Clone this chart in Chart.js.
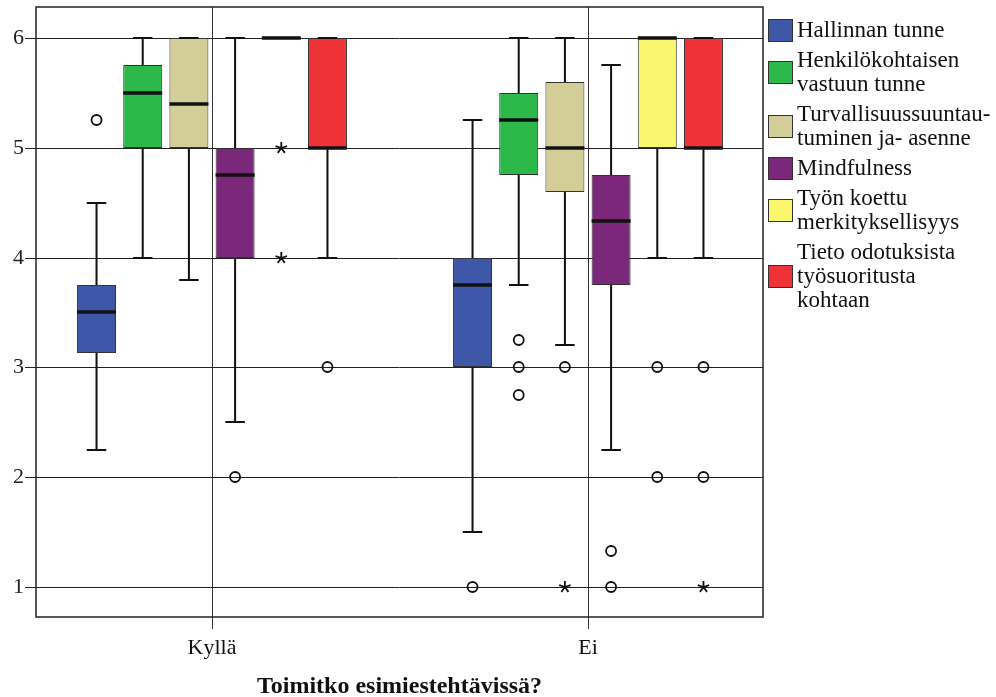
<!DOCTYPE html>
<html>
<head>
<meta charset="utf-8">
<script src="https://cdn.jsdelivr.net/npm/chart.js@4.4.0/dist/chart.umd.min.js"></script>
<style>
  body { margin: 0; background: #fff; }
  #wrap { position: relative; width: 996px; height: 697px; }
  #legend {
    position: absolute; left: 768px; top: 18px;
    display: flex; flex-direction: column; gap: 6px;
    font: 23px/24px "Liberation Serif", serif; color: #111;
  }
  .item { display: flex; align-items: center; white-space: nowrap; }
  .swatch { width: 25px; height: 23px; box-sizing: border-box; border: 1px solid #333; margin-right: 4px; flex: none; }
</style>
</head>
<body>
<div id="wrap">
  <canvas id="boxChart" width="996" height="697"></canvas>
  <div id="legend"></div>
</div>
<script>
/*
DATA
*/
const groups = ['Kyllä', 'Ei'];
const seriesNames = [
  'Hallinnan tunne',
  'Henkilökohtaisen vastuun tunne',
  'Turvallisuussuuntautuminen ja- asenne',
  'Mindfulness',
  'Työn koettu merkityksellisyys',
  'Tieto odotuksista työsuoritusta kohtaan'
];
const legendLines = [
  ['Hallinnan tunne'],
  ['Henkilökohtaisen', 'vastuun tunne'],
  ['Turvallisuussuuntau-', 'tuminen ja- asenne'],
  ['Mindfulness'],
  ['Työn koettu', 'merkityksellisyys'],
  ['Tieto odotuksista', 'työsuoritusta', 'kohtaan']
];
const seriesColors = [
  'rgb(63, 87, 169)',
  'rgb(45, 184, 74)',
  'rgb(211, 206, 151)',
  'rgb(123, 40, 122)',
  'rgb(250, 246, 110)',
  'rgb(239, 50, 56)'
];
const yTicks = [1, 2, 3, 4, 5, 6];

// one row per series, [Kyllä, Ei]
const lowWhisker  = [[2.25, 1.5], [4, 3.75], [3.8, 3.2], [2.5, 2.25], [6, 4], [4, 4]];
const q1          = [[3.13, 3],   [5, 4.75], [5, 4.6],   [4, 3.75],   [6, 5], [5, 5]];
const median      = [[3.5, 3.75], [5.5, 5.25], [5.4, 5], [4.75, 4.33], [6, 6], [5, 5]];
const q3          = [[3.75, 4],   [5.75, 5.5], [6, 5.6], [5, 4.75],   [6, 6], [6, 6]];
const highWhisker = [[4.5, 5.25], [6, 6], [6, 6], [6, 5.75], [6, 6], [6, 6]];
const outliers = [
  [[5.25], [1]],
  [[], [3.25, 3, 2.75]],
  [[], [3]],
  [[2], [1.33, 1]],
  [[], [3, 2]],
  [[3], [3, 2]]
];
const extremes = [
  [[], []],
  [[], []],
  [[], [1]],
  [[], []],
  [[5, 4], []],
  [[], [1]]
];

/*
DATASETS (boxes = floating bars q1..q3)
*/
const datasets = [];
for (let s = 0; s < seriesNames.length; s++) {
  datasets.push({
    label: seriesNames[s],
    backgroundColor: seriesColors[s],
    borderColor: '#333',
    borderWidth: 1,
    borderSkipped: false,
    data: groups.map((g, i) => ({ x: i + 1, y: [q1[s][i], q3[s][i]] }))
  });
}

function drawStar(ctx, x, y, r) {
  ctx.beginPath();
  for (let k = 0; k < 5; k++) {
    const a = -Math.PI / 2 + k * 2 * Math.PI / 5;
    ctx.moveTo(x, y);
    ctx.lineTo(x + r * Math.cos(a), y + r * Math.sin(a));
  }
  ctx.stroke();
}

const boxPlot = {
  id: 'boxPlot',
  beforeDatasetsDraw(chart) {
    const { ctx, chartArea: a } = chart;
    ctx.save();
    ctx.strokeStyle = '#222';
    ctx.lineWidth = 1.5;
    ctx.strokeRect(a.left, a.top, a.right - a.left, a.bottom - a.top);
    ctx.restore();
  },
  afterDatasetsDraw(chart) {
    const ctx = chart.ctx;
    const y = chart.scales.y;
    ctx.save();
    ctx.strokeStyle = '#111';
    chart.data.datasets.forEach((ds, s) => {
      chart.getDatasetMeta(s).data.forEach((bar, i) => {
        const cx = bar.x;
        const half = bar.width / 2;
        const cap = bar.width / 4;
        // whiskers
        ctx.lineWidth = 2;
        ctx.beginPath();
        ctx.moveTo(cx, y.getPixelForValue(q3[s][i]));
        ctx.lineTo(cx, y.getPixelForValue(highWhisker[s][i]));
        ctx.moveTo(cx - cap, y.getPixelForValue(highWhisker[s][i]));
        ctx.lineTo(cx + cap, y.getPixelForValue(highWhisker[s][i]));
        ctx.moveTo(cx, y.getPixelForValue(q1[s][i]));
        ctx.lineTo(cx, y.getPixelForValue(lowWhisker[s][i]));
        ctx.moveTo(cx - cap, y.getPixelForValue(lowWhisker[s][i]));
        ctx.lineTo(cx + cap, y.getPixelForValue(lowWhisker[s][i]));
        ctx.stroke();
        // median
        ctx.lineWidth = 3.5;
        ctx.beginPath();
        ctx.moveTo(cx - half, y.getPixelForValue(median[s][i]));
        ctx.lineTo(cx + half, y.getPixelForValue(median[s][i]));
        ctx.stroke();
        // outliers
        ctx.lineWidth = 1.8;
        for (const v of outliers[s][i]) {
          ctx.beginPath();
          ctx.arc(cx, y.getPixelForValue(v), 5, 0, Math.PI * 2);
          ctx.stroke();
        }
        ctx.lineWidth = 1.8;
        for (const v of extremes[s][i]) {
          drawStar(ctx, cx, y.getPixelForValue(v), 6);
        }
      });
    });
    ctx.restore();
  }
};

const boxChart = new Chart(document.getElementById('boxChart'), {
  type: 'bar',
  data: { datasets: datasets },
  plugins: [boxPlot],
  options: {
    responsive: false,
    animation: false,
    layout: { padding: { left: 0, top: 7, right: 233, bottom: 0 } },
    datasets: { bar: { categoryPercentage: 0.737, barPercentage: 0.844 } },
    plugins: { legend: { display: false }, tooltip: { enabled: false } },
    scales: {
      x: {
        type: 'linear',
        min: 0.532,
        max: 2.465,
        offset: false,
        alignToPixels: true,
        afterBuildTicks: (scale) => { scale.ticks = groups.map((g, i) => ({ value: i + 1 })); },
        afterFit: (scale) => { scale.height = 80; scale.paddingLeft = 0; scale.paddingRight = 0; },
        grid: { offset: false, color: '#333', lineWidth: 1, tickLength: 12 },
        border: { display: false },
        ticks: {
          padding: 6,
          color: '#111',
          font: { family: 'Liberation Serif', size: 22 },
          callback: (v) => groups[v - 1]
        },
        title: {
          display: true,
          text: 'Toimitko esimiestehtävissä?',
          color: '#111',
          padding: { top: 0, bottom: -2 },
          font: { family: 'Liberation Serif', size: 24, weight: 'bold', lineHeight: 1 }
        }
      },
      y: {
        min: 0.727,
        max: 6.282,
        alignToPixels: true,
        afterBuildTicks: (scale) => { scale.ticks = yTicks.map(v => ({ value: v })); },
        afterFit: (scale) => { scale.width = 36; scale.paddingTop = 0; scale.paddingBottom = 0; },
        grid: { color: '#222', lineWidth: 1, tickLength: 11 },
        border: { display: false },
        ticks: {
          padding: 1,
          color: '#222',
          font: { family: 'Liberation Serif', size: 22 }
        }
      }
    }
  }
});

/*
LEGEND
*/
const legendEl = document.getElementById('legend');
for (let s = 0; s < seriesNames.length; s++) {
  const item = document.createElement('div');
  item.className = 'item';
  const sw = document.createElement('span');
  sw.className = 'swatch';
  sw.style.background = seriesColors[s];
  const txt = document.createElement('span');
  txt.innerHTML = legendLines[s].join('<br>');
  item.appendChild(sw);
  item.appendChild(txt);
  legendEl.appendChild(item);
}
</script>
</body>
</html>
